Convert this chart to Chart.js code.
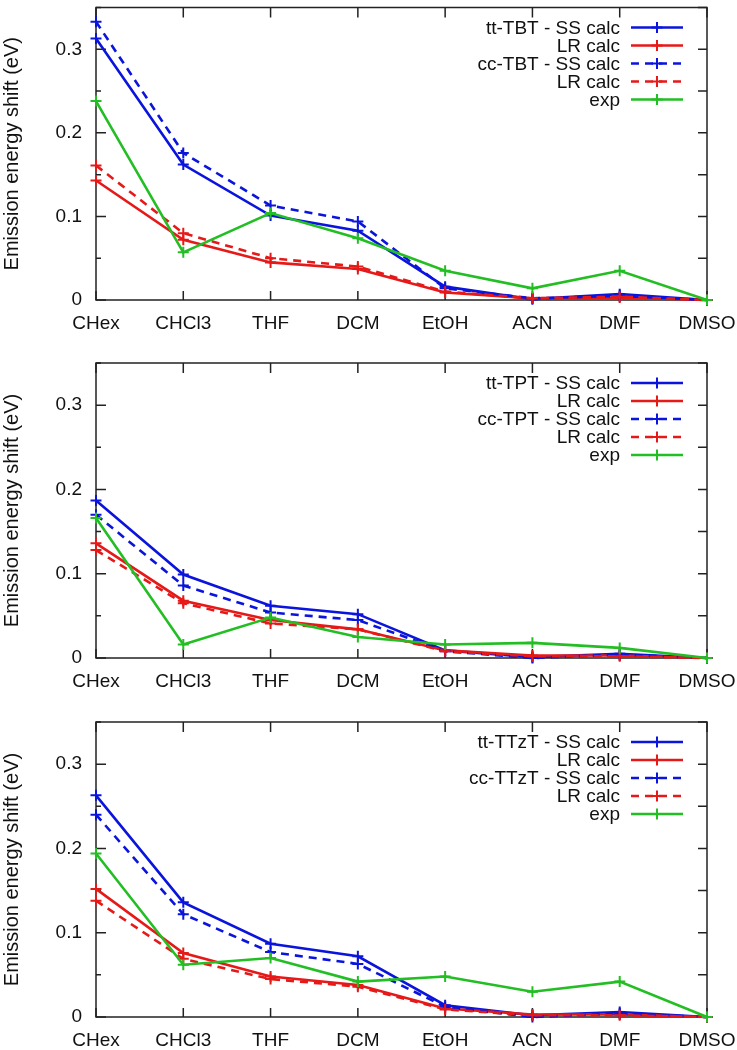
<!DOCTYPE html>
<html>
<head>
<meta charset="utf-8">
<script src="https://cdn.jsdelivr.net/npm/chart.js@4/dist/chart.umd.min.js"></script>
<style>
  body { margin: 0; background: #fff; }
  #wrap { position: relative; width: 737px; height: 1050px; }
  canvas { position: absolute; left: 0; }
</style>
</head>
<body>
<div id="wrap">
  <canvas id="c1" width="737" height="345" style="top:0px"></canvas>
  <canvas id="c2" width="737" height="360" style="top:340px"></canvas>
  <canvas id="c3" width="737" height="360" style="top:690px"></canvas>
</div>
<script>
const solvents = ["CHex", "CHCl3", "THF", "DCM", "EtOH", "ACN", "DMF", "DMSO"];
const yTickValues = [0, 0.05, 0.1, 0.15, 0.2, 0.25, 0.3, 0.35];

// TBT
const tbtTtSS = [0.313, 0.162, 0.101, 0.083, 0.016, 0.001, 0.007, 0];
const tbtTtLR = [0.143, 0.072, 0.045, 0.037, 0.009, 0.002, 0.003, 0];
const tbtCcSS = [0.333, 0.176, 0.113, 0.094, 0.014, 0.002, 0.005, 0];
const tbtCcLR = [0.161, 0.080, 0.050, 0.040, 0.010, 0.002, 0.004, 0];
const tbtExp = [0.238, 0.057, 0.104, 0.074, 0.035, 0.014, 0.035, 0];

// TPT
const tptTtSS = [0.187, 0.099, 0.062, 0.052, 0.009, 0.001, 0.005, 0];
const tptTtLR = [0.136, 0.068, 0.045, 0.034, 0.009, 0.003, 0.003, 0];
const tptCcSS = [0.170, 0.086, 0.054, 0.045, 0.008, 0.000, 0.004, 0];
const tptCcLR = [0.128, 0.065, 0.041, 0.034, 0.008, 0.002, 0.002, 0];
const tptExp = [0.166, 0.016, 0.048, 0.025, 0.016, 0.018, 0.012, 0];

// TTzT
const ttztTtSS = [0.263, 0.136, 0.087, 0.072, 0.014, 0.002, 0.006, 0];
const ttztTtLR = [0.152, 0.076, 0.048, 0.038, 0.010, 0.003, 0.003, 0];
const ttztCcSS = [0.240, 0.122, 0.077, 0.063, 0.012, 0.000, 0.004, 0];
const ttztCcLR = [0.138, 0.069, 0.045, 0.036, 0.009, 0.002, 0.002, 0];
const ttztExp = [0.194, 0.062, 0.070, 0.042, 0.048, 0.030, 0.042, 0];

const BLUE = "rgb(10,20,220)";
const RED = "rgb(230,25,25)";
const GREEN = "rgb(35,190,35)";

Chart.defaults.font.family = "'Liberation Sans', Arial, sans-serif";
Chart.defaults.color = "#111";

function makeDatasets(name, ttSS, ttLR, ccSS, ccLR, exp) {
  const specs = [
    { label: "tt-" + name + " - SS calc", data: ttSS, color: BLUE, dash: [] },
    { label: "LR calc", data: ttLR, color: RED, dash: [] },
    { label: "cc-" + name + " - SS calc", data: ccSS, color: BLUE, dash: [8, 6] },
    { label: "LR calc", data: ccLR, color: RED, dash: [8, 6] },
    { label: "exp", data: exp, color: GREEN, dash: [] },
  ];
  return specs.map((s, i) => ({
    label: s.label,
    data: s.data,
    borderColor: s.color,
    backgroundColor: s.color,
    borderWidth: 2.6,
    borderDash: s.dash,
    pointStyle: "cross",
    pointRadius: 5.5,
    pointBorderWidth: 2,
    pointBorderColor: s.color,
    tension: 0,
    fill: false,
    clip: false,
    order: 5 - i,
  }));
}

// frame, inward ticks and gnuplot-like legend
const framePlugin = {
  id: "frame",
  beforeDatasetsDraw(chart) {
    const { ctx, chartArea: a, scales } = chart;
    ctx.save();
    ctx.strokeStyle = "#222";
    ctx.lineWidth = 1.5;
    ctx.strokeRect(a.left, a.top, a.right - a.left, a.bottom - a.top);
    ctx.beginPath();
    yTickValues.forEach((v) => {
      const y = scales.y.getPixelForValue(v);
      const major = Math.round(v * 100) % 10 === 0;
      ctx.moveTo(a.left, y);
      ctx.lineTo(a.left + (major ? 10 : 5), y);
      ctx.moveTo(a.right, y);
      ctx.lineTo(a.right - 9, y);
    });
    solvents.forEach((s, i) => {
      const x = scales.x.getPixelForValue(i);
      ctx.moveTo(x, a.bottom);
      ctx.lineTo(x, a.bottom - 9);
      ctx.moveTo(x, a.top);
      ctx.lineTo(x, a.top + 10);
    });
    ctx.stroke();
    ctx.restore();
  },
  afterDraw(chart) {
    const { ctx, chartArea: a } = chart;
    ctx.save();
    ctx.font = "19px 'Liberation Sans', Arial, sans-serif";
    ctx.textAlign = "right";
    ctx.textBaseline = "middle";
    chart.data.datasets.forEach((ds, i) => {
      const y = a.top + 20 + i * 18;
      ctx.fillStyle = "#111";
      ctx.fillText(ds.label, 620, y + 1);
      ctx.strokeStyle = ds.borderColor;
      ctx.lineWidth = 2.6;
      ctx.setLineDash(ds.borderDash);
      ctx.beginPath();
      ctx.moveTo(631, y);
      ctx.lineTo(683, y);
      ctx.stroke();
      ctx.setLineDash([]);
      ctx.lineWidth = 2;
      ctx.beginPath();
      ctx.moveTo(657, y - 5.5);
      ctx.lineTo(657, y + 5.5);
      ctx.moveTo(651.5, y);
      ctx.lineTo(662.5, y);
      ctx.stroke();
    });
    ctx.restore();
  },
};

function makeChart(id, datasets, top, bottom, height) {
  return new Chart(document.getElementById(id), {
    type: "line",
    data: { labels: solvents, datasets: datasets },
    plugins: [framePlugin],
    options: {
      responsive: false,
      animation: false,
      layout: { padding: { top: top, right: 30, left: 0, bottom: 0 } },
      plugins: { legend: { display: false }, tooltip: { enabled: false } },
      scales: {
        x: {
          type: "category",
          offset: false,
          grid: { display: false, drawTicks: false },
          border: { display: false },
          ticks: { font: { size: 19 }, padding: 12, maxRotation: 0, autoSkip: false },
          afterFit(scale) {
            scale.height = height - bottom;
            scale.paddingLeft = 0;
            scale.paddingRight = 0;
          },
        },
        y: {
          min: 0,
          max: 0.35,
          grid: { display: false, drawTicks: false },
          border: { display: false },
          ticks: {
            stepSize: 0.05,
            autoSkip: false,
            padding: 14,
            font: { size: 19 },
            callback: (v) => {
              const k = Math.round(v * 100);
              if (k % 10 !== 0) return "";
              return k === 0 ? "0" : (k / 100).toFixed(1);
            },
          },
          title: {
            display: true,
            text: "Emission energy shift (eV)",
            font: { size: 20 },
            padding: { top: 0, bottom: 0 },
          },
          afterFit(scale) {
            scale.width = 96;
            scale.paddingTop = 0;
            scale.paddingBottom = 0;
          },
        },
      },
    },
  });
}

makeChart("c1", makeDatasets("TBT", tbtTtSS, tbtTtLR, tbtCcSS, tbtCcLR, tbtExp), 4, 300, 345);
makeChart("c2", makeDatasets("TPT", tptTtSS, tptTtLR, tptCcSS, tptCcLR, tptExp), 23, 318, 360);
makeChart("c3", makeDatasets("TTzT", ttztTtSS, ttztTtLR, ttztCcSS, ttztCcLR, ttztExp), 32, 327, 360);
</script>
</body>
</html>
